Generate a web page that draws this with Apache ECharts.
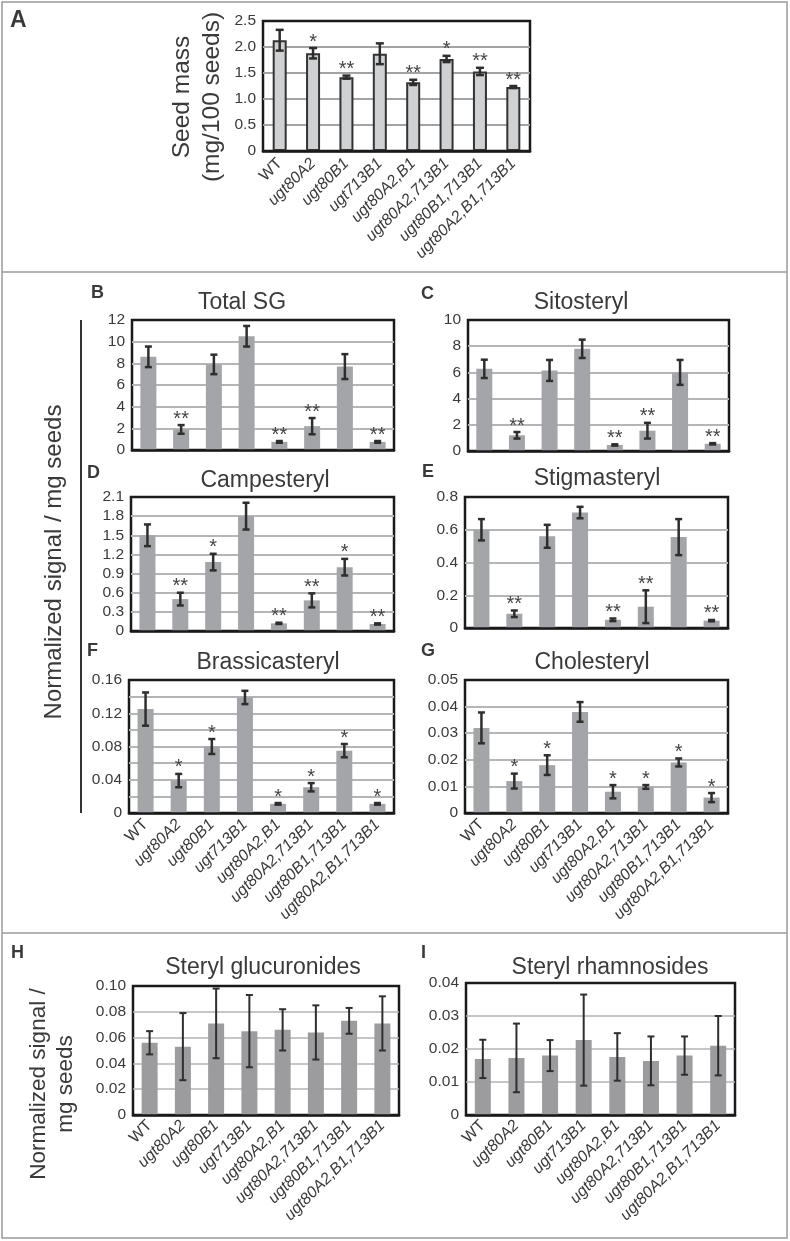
<!DOCTYPE html>
<html>
<head>
<meta charset="utf-8">
<script src="https://cdn.jsdelivr.net/npm/echarts@6/dist/echarts.min.js"></script>
<style>
  html, body { margin: 0; padding: 0; background: #fff; }
  #chart { width: 790px; height: 1241px; }
</style>
</head>
<body>
<div id="chart"></div>
<script>
// genotypes on every x axis
const genotypes = ['WT', 'ugt80A2', 'ugt80B1', 'ugt713B1', 'ugt80A2,B1', 'ugt80A2,713B1', 'ugt80B1,713B1', 'ugt80A2,B1,713B1'];

// A: seed mass
const seedMass = [2.13, 1.88, 1.42, 1.87, 1.32, 1.77, 1.53, 1.23];
const seedMassErr = [0.2, 0.1, 0.03, 0.2, 0.05, 0.06, 0.07, 0.02];
const seedMassStars = ['', '*', '**', '', '**', '*', '**', '**'];
const ticksA = ['0', '0.5', '1.0', '1.5', '2.0', '2.5'];

// B: total SG
const totalSG = [8.6, 1.9, 7.9, 10.5, 0.75, 2.2, 7.7, 0.75];
const totalSGErr = [0.95, 0.4, 0.9, 0.95, 0.08, 0.75, 1.15, 0.08];
const totalSGStars = ['', '**', '', '', '**', '**', '', '**'];
const ticksB = ['0', '2', '4', '6', '8', '10', '12'];

// C: sitosteryl
const sitosteryl = [6.27, 1.2, 6.15, 7.8, 0.46, 1.55, 6.0, 0.55];
const sitosterylErr = [0.7, 0.25, 0.8, 0.7, 0.05, 0.6, 0.95, 0.05];
const sitosterylStars = ['', '**', '', '', '**', '**', '', '**'];
const ticksC = ['0', '2', '4', '6', '8', '10'];

// D: campesteryl
const campesteryl = [1.5, 0.5, 1.08, 1.8, 0.12, 0.48, 1.0, 0.11];
const campesterylErr = [0.17, 0.1, 0.13, 0.21, 0.01, 0.11, 0.13, 0.01];
const campesterylStars = ['', '**', '*', '', '**', '**', '*', '**'];
const ticksD = ['0', '0.3', '0.6', '0.9', '1.2', '1.5', '1.8', '2.1'];

// E: stigmasteryl
const stigmasteryl = [0.6, 0.087, 0.56, 0.705, 0.05, 0.13, 0.555, 0.045];
const stigmasterylErr = [0.065, 0.02, 0.07, 0.035, 0.008, 0.1, 0.11, 0.004];
const stigmasterylStars = ['', '**', '', '', '**', '**', '', '**'];
const ticksE = ['0', '0.2', '0.4', '0.6', '0.8'];

// F: brassicasteryl
const brassicasteryl = [0.125, 0.039, 0.08, 0.139, 0.011, 0.031, 0.075, 0.011];
const brassicasterylErr = [0.02, 0.008, 0.009, 0.008, 0.001, 0.005, 0.008, 0.001];
const brassicasterylStars = ['', '*', '*', '', '*', '*', '*', '*'];
const ticksF = ['0', '', '0.04', '', '0.08', '', '0.12', '', '0.16'];

// G: cholesteryl
const cholesteryl = [0.032, 0.012, 0.018, 0.038, 0.008, 0.0098, 0.019, 0.0058];
const cholesterylErr = [0.0058, 0.0028, 0.0037, 0.0037, 0.0025, 0.0007, 0.0015, 0.0017];
const cholesterylStars = ['', '*', '*', '', '*', '*', '*', '*'];
const ticksG = ['0', '0.01', '0.02', '0.03', '0.04', '0.05'];

// H: steryl glucuronides
const glucuronides = [0.056, 0.053, 0.071, 0.065, 0.066, 0.064, 0.073, 0.071];
const glucuronidesErr = [0.009, 0.026, 0.027, 0.028, 0.016, 0.021, 0.01, 0.021];
const ticksH = ['0', '0.02', '0.04', '0.06', '0.08', '0.10'];

// I: steryl rhamnosides
const rhamnosides = [0.017, 0.0173, 0.018, 0.0227, 0.0176, 0.0164, 0.018, 0.021];
const rhamnosidesErr = [0.0058, 0.0104, 0.0047, 0.0138, 0.0072, 0.0074, 0.0058, 0.009];
const ticksI = ['0', '0.01', '0.02', '0.03', '0.04'];

const FONT = '"Liberation Sans", Arial, Helvetica, sans-serif';
const TEXT = '#3a3a3a';
const noStars = genotypes.map(() => '');

// layout: box = [left, top, width, height]
const panels = [
  { values: seedMass, errors: seedMassErr, stars: seedMassStars, ticks: ticksA, max: 2.5, interval: 0.5,
    box: [263, 21, 267, 130], kind: 'outlined', labels: true, margin: 10 },
  { values: totalSG, errors: totalSGErr, stars: totalSGStars, ticks: ticksB, max: 12, interval: 2,
    box: [132, 320, 262, 130], kind: 'mid' },
  { values: sitosteryl, errors: sitosterylErr, stars: sitosterylStars, ticks: ticksC, max: 10, interval: 2,
    box: [468, 320, 261, 131], kind: 'mid' },
  { values: campesteryl, errors: campesterylErr, stars: campesterylStars, ticks: ticksD, max: 2.1, interval: 0.3,
    box: [131, 497, 263, 134], kind: 'mid' },
  { values: stigmasteryl, errors: stigmasterylErr, stars: stigmasterylStars, ticks: ticksE, max: 0.8, interval: 0.2,
    box: [465, 497, 263, 131], kind: 'mid' },
  { values: brassicasteryl, errors: brassicasterylErr, stars: brassicasterylStars, ticks: ticksF, max: 0.16, interval: 0.02,
    box: [129, 680, 265, 133], kind: 'mid', labels: true, margin: 9 },
  { values: cholesteryl, errors: cholesterylErr, stars: cholesterylStars, ticks: ticksG, max: 0.05, interval: 0.01,
    box: [465, 680, 263, 133], kind: 'mid', labels: true, margin: 9 },
  { values: glucuronides, errors: glucuronidesErr, stars: noStars, ticks: ticksH, max: 0.1, interval: 0.02,
    box: [133, 986, 266, 129], kind: 'thin', labels: true, margin: 8 },
  { values: rhamnosides, errors: rhamnosidesErr, stars: noStars, ticks: ticksI, max: 0.04, interval: 0.01,
    box: [466, 983, 269, 132], kind: 'thin', labels: true, margin: 8 }
];

const looks = {
  outlined: { bar: '#d0d1d3', border: '#333', borderWidth: 2, barWidth: 14, grid: '#a3a3a3', gridWidth: 2, err: 2.5, cap: 4 },
  mid: { bar: '#a3a5a8', border: null, borderWidth: 0, barWidth: 16, grid: '#b5b5b5', gridWidth: 2, err: 2.5, cap: 3.5 },
  thin: { bar: '#9c9c9e', border: null, borderWidth: 0, barWidth: 16, grid: '#b3b3b3', gridWidth: 1.5, err: 2, cap: 3.5 }
};

const grids = [], xAxes = [], yAxes = [], series = [];

panels.forEach((p, i) => {
  const look = looks[p.kind];
  grids.push({
    left: p.box[0], top: p.box[1], width: p.box[2], height: p.box[3],
    show: true, borderColor: '#1a1a1a', borderWidth: 2.5, backgroundColor: 'transparent'
  });
  xAxes.push({
    type: 'category', gridIndex: i, data: genotypes, z: 5,
    axisTick: { show: false },
    axisLine: { show: true, lineStyle: { color: '#1a1a1a', width: 2.5 } },
    axisLabel: {
      show: !!p.labels, interval: 0, rotate: 45, margin: p.margin || 8, hideOverlap: false,
      formatter: v => v === 'WT' ? '{n|WT}' : '{i|' + v + '}',
      rich: {
        n: { fontSize: 16, color: TEXT, fontFamily: FONT },
        i: { fontSize: 16, color: TEXT, fontFamily: FONT, fontStyle: 'italic' }
      }
    }
  });
  yAxes.push({
    type: 'value', gridIndex: i, min: 0, max: p.max, interval: p.interval,
    axisLine: { show: false }, axisTick: { show: false },
    splitLine: { show: true, showMinLine: false, showMaxLine: false,
      lineStyle: { color: look.grid, width: look.gridWidth } },
    axisLabel: {
      fontSize: 15.5, color: TEXT, fontFamily: FONT, margin: 7,
      formatter: v => p.ticks[Math.round(v / p.interval)] || ''
    }
  });
  series.push({
    type: 'bar', xAxisIndex: i, yAxisIndex: i, data: p.values, barWidth: look.barWidth, silent: true,
    itemStyle: { color: look.bar, borderColor: look.border || look.bar, borderWidth: look.borderWidth }
  });
  series.push({
    type: 'custom', xAxisIndex: i, yAxisIndex: i, silent: true, z: 4,
    data: p.values.map((v, k) => [k, v, p.errors[k]]),
    renderItem: (params, api) => {
      const k = api.value(0), m = api.value(1), e = api.value(2);
      const top = api.coord([k, m + e]);
      const bot = api.coord([k, m - e]);
      const st = { stroke: '#2e2e2e', lineWidth: look.err };
      const children = [
        { type: 'line', shape: { x1: top[0], y1: top[1], x2: bot[0], y2: bot[1] }, style: st },
        { type: 'line', shape: { x1: top[0] - look.cap, y1: top[1], x2: top[0] + look.cap, y2: top[1] }, style: st },
        { type: 'line', shape: { x1: bot[0] - look.cap, y1: bot[1], x2: bot[0] + look.cap, y2: bot[1] }, style: st }
      ];
      if (p.stars[k]) {
        children.push({ type: 'text', style: {
          text: p.stars[k], x: top[0], y: top[1] - 6, align: 'center', verticalAlign: 'middle',
          fontSize: 20, fontFamily: FONT, fill: '#454545' } });
      }
      return { type: 'group', children };
    }
  });
});

function label(text, x, y, size, extra) {
  return Object.assign({ type: 'text', x, y, silent: true,
    style: Object.assign({ text, fontSize: size, fontFamily: FONT, fill: TEXT, align: 'center', verticalAlign: 'middle' }, extra || {}) });
}

const graphics = [
  { type: 'rect', silent: true, shape: { x: 2, y: 2, width: 785, height: 1236 }, style: { fill: 'none', stroke: '#9a9a9a', lineWidth: 1.5 } },
  { type: 'line', silent: true, shape: { x1: 2, y1: 272, x2: 787, y2: 272 }, style: { stroke: '#9a9a9a', lineWidth: 1.5 } },
  { type: 'line', silent: true, shape: { x1: 2, y1: 933, x2: 787, y2: 933 }, style: { stroke: '#9a9a9a', lineWidth: 1.5 } },
  { type: 'line', silent: true, shape: { x1: 81, y1: 320, x2: 81, y2: 813 }, style: { stroke: '#333', lineWidth: 2 } },
  // panel titles
  label('Total SG', 242, 303, 23),
  label('Sitosteryl', 581, 303, 23),
  label('Campesteryl', 265, 481, 23),
  label('Stigmasteryl', 597, 479, 23),
  label('Brassicasteryl', 268, 663, 23),
  label('Cholesteryl', 592, 663, 23),
  label('Steryl glucuronides', 263, 968, 23),
  label('Steryl rhamnosides', 610, 968, 23),
  // panel letters
  label('A', 10, 21, 23, { fontWeight: 'bold', align: 'left' }),
  label('B', 91, 293, 18, { fontWeight: 'bold', align: 'left' }),
  label('C', 421, 294, 18, { fontWeight: 'bold', align: 'left' }),
  label('D', 87, 473, 18, { fontWeight: 'bold', align: 'left' }),
  label('E', 422, 472, 18, { fontWeight: 'bold', align: 'left' }),
  label('F', 87, 651, 18, { fontWeight: 'bold', align: 'left' }),
  label('G', 421, 651, 18, { fontWeight: 'bold', align: 'left' }),
  label('H', 11, 953, 18, { fontWeight: 'bold', align: 'left' }),
  label('I', 421, 953, 18, { fontWeight: 'bold', align: 'left' }),
  // axis names
  Object.assign(label('Seed mass\n(mg/100 seeds)', 197, 97, 24.5, { lineHeight: 30 }), { rotation: Math.PI / 2 }),
  Object.assign(label('Normalized signal / mg seeds', 54, 562, 24), { rotation: Math.PI / 2 }),
  Object.assign(label('Normalized signal /\nmg seeds', 52, 1084, 22.5, { lineHeight: 27 }), { rotation: Math.PI / 2 })
];

const chart = echarts.init(document.getElementById('chart'), null, { renderer: 'canvas' });
chart.setOption({
  animation: false,
  backgroundColor: '#fff',
  textStyle: { fontFamily: FONT },
  grid: grids,
  xAxis: xAxes,
  yAxis: yAxes,
  series: series,
  graphic: graphics
});
</script>
</body>
</html>
